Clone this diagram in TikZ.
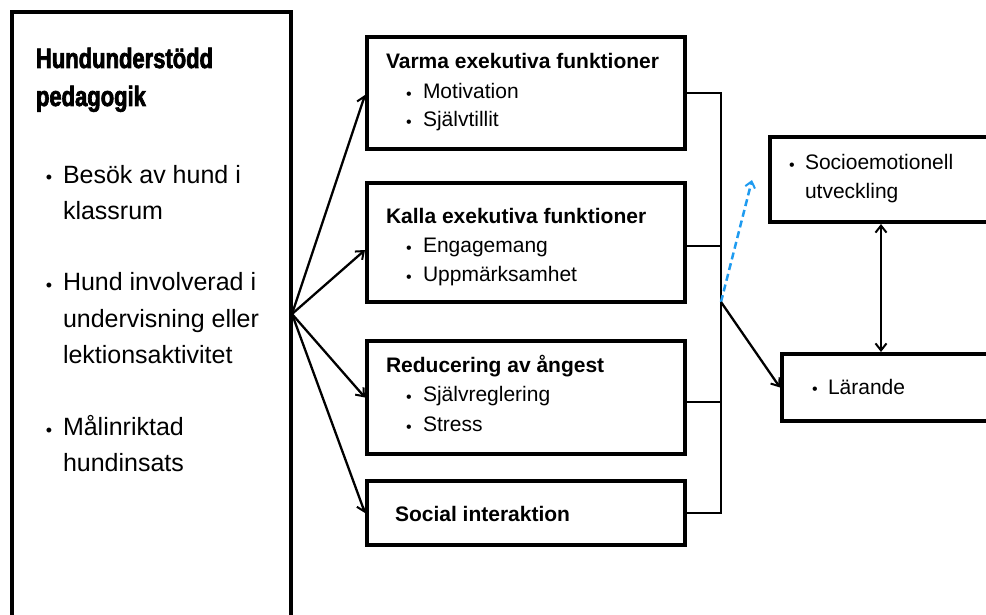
\documentclass[tikz,border=0pt]{standalone}
\usepackage{fontspec}
\setmainfont{Liberation Sans}
\newfontfamily\titlefont{Liberation Sans Bold}[FakeStretch=0.785,FakeBold=2.5]
\usetikzlibrary{arrows.meta}
\definecolor{dashblue}{HTML}{1E9BF0}
\begin{document}
\begin{tikzpicture}[x=1pt,y=-1pt,
 txt/.style={anchor=base west,inner sep=0pt,outer sep=0pt},
 lt/.style={txt,font=\fontsize{25}{30}\selectfont},
 mt/.style={txt,font=\fontsize{21}{25}\selectfont},
 lbul/.style={txt,yshift=-1pt,font=\fontsize{18}{20}\selectfont},
 mbul/.style={txt,yshift=-0.8pt,font=\fontsize{16}{18}\selectfont},
 mtb/.style={txt,font=\fontsize{21}{25}\selectfont\bfseries},
 ttl/.style={txt,font=\fontsize{28}{34}\titlefont},
 box/.style={draw,line width=4pt,rectangle,anchor=north west,inner sep=0pt},
 bus/.style={line width=2pt},
 arr/.style={line width=2.3pt,-{Straight Barb[length=7pt,width=11pt,line width=2pt]}},
 arrboth/.style={line width=2.3pt,{Straight Barb[length=7pt,width=11pt,line width=2pt]}-{Straight Barb[length=7pt,width=11pt,line width=2pt]}},
 bluearr/.style={dashblue,line width=2.5pt,dash pattern=on 7pt off 4pt,-{Straight Barb[length=6pt,width=10pt,line width=2pt]}},
]
\useasboundingbox (0,0) rectangle (986,615);
\clip (0,0) rectangle (986,615);

% boxes
\node[box,minimum width=278.5pt,minimum height=660pt] (lbox) at (10,10) {};
\node[box,minimum width=318pt,minimum height=112pt] (box1) at (365,35) {};
\node[box,minimum width=318pt,minimum height=119pt] (box2) at (365,181) {};
\node[box,minimum width=318pt,minimum height=113pt] (box3) at (365,339) {};
\node[box,minimum width=318pt,minimum height=64pt] (box4) at (365,479) {};
\node[box,minimum width=300pt,minimum height=85pt] (socio) at (768,135) {};
\node[box,minimum width=300pt,minimum height=67pt] (lar) at (780,352) {};

% left box text
\node[ttl] (t1) at (36,68) {Hundunderstödd};
\node[ttl] (t2) at (36,106) {pedagogik};
\node[lbul] (lb1) at (45.9,183) {•};
\node[lt] (l1a) at (63,183) {Besök av hund i};
\node[lt] (l1b) at (63,219) {klassrum};
\node[lbul] (lb2) at (45.9,290) {•};
\node[lt] (l2a) at (63,290) {Hund involverad i};
\node[lt] (l2b) at (63,327) {undervisning eller};
\node[lt] (l2c) at (63,363) {lektionsaktivitet};
\node[lbul] (lb3) at (45.9,435) {•};
\node[lt] (l3a) at (63,435) {Målinriktad};
\node[lt] (l3b) at (63,471) {hundinsats};

% middle texts
\node[mtb] (h1) at (386,68.3) {Varma exekutiva funktioner};
\node[mbul] (b1a) at (406.2,98.3) {•};
\node[mt] (m1a) at (423,98.3) {Motivation};
\node[mbul] (b1b) at (406.2,127) {•};
\node[mt] (m1b) at (423,127) {Självtillit};

\node[mtb] (h2) at (386,223.3) {Kalla exekutiva funktioner};
\node[mbul] (b2a) at (406.2,252.7) {•};
\node[mt] (m2a) at (423,252.7) {Engagemang};
\node[mbul] (b2b) at (406.2,281.7) {•};
\node[mt] (m2b) at (423,281.7) {Uppmärksamhet};

\node[mtb] (h3) at (386,372.7) {Reducering av ångest};
\node[mbul] (b3a) at (406.2,401.7) {•};
\node[mt] (m3a) at (423,401.7) {Självreglering};
\node[mbul] (b3b) at (406.2,431.7) {•};
\node[mt] (m3b) at (423,431.7) {Stress};

\node[mtb] (h4) at (395,521.7) {Social interaktion};

% right texts
\node[mbul] (rb1) at (789.2,170) {•};
\node[mt] (r1a) at (805,170) {Socioemotionell};
\node[mt] (r1b) at (805,199) {utveckling};
\node[mbul] (rb2) at (812.2,394) {•};
\node[mt] (r2) at (828,394) {Lärande};

% coordinates
\coordinate (fan) at (292,314);
\coordinate (busx) at (721,0);
\coordinate (junc) at (721,302);
\coordinate (bluetip) at (752,180);
\coordinate (dx) at (881,0);

% fan arrows
\draw[arr] (fan) -- ([yshift=-2pt]box1.west);
\draw[arr] (fan) -- ([yshift=-7.5pt]box2.west);
\draw[arr] (fan) -- (box3.west);
\draw[arr] (fan) -- (box4.west);

% bus
\draw[bus] (box1.east) -- (box1.east -| busx) -- (box4.east -| busx) -- (box4.east);
\draw[bus] ([yshift=-3.5pt]box2.east) -- ([yshift=-3.5pt]box2.east -| busx);
\draw[bus] ([yshift=-4.5pt]box3.east) -- ([yshift=-4.5pt]box3.east -| busx);

% outputs
\draw[bluearr] (junc) -- (bluetip);
\draw[arr] (junc) -- (lar.west);
\draw[arrboth] (socio.south -| dx) -- (lar.north -| dx);
\end{tikzpicture}
\end{document}
